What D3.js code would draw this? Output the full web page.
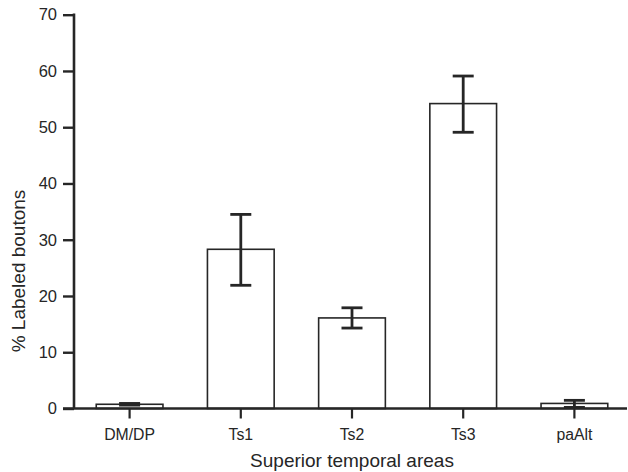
<!DOCTYPE html>
<html>
<head>
<meta charset="utf-8">
<script src="https://cdn.jsdelivr.net/npm/d3@7"></script>
<style>
  body { margin: 0; background: #fff; }
  svg { display: block; font-family: "Liberation Sans", Arial, sans-serif; }
</style>
</head>
<body>
<svg id="chart" width="628" height="472"></svg>
<script>
// values
var categories = ["DM/DP", "Ts1", "Ts2", "Ts3", "paAlt"];
var means = [0.75, 28.3, 16.1, 54.2, 0.9];
var errLow = [0.6, 21.9, 14.3, 49.1, 0.2];
var errHigh = [0.9, 34.5, 17.9, 59.1, 1.45];
var yTicks = [0, 10, 20, 30, 40, 50, 60, 70];

var ink = "#262626";
var svg = d3.select("#chart");

var x = d3.scaleBand()
  .domain(categories)
  .range([74, 630])
  .paddingInner(0.4)
  .paddingOuter(0.2);

var y = d3.scaleLinear()
  .domain([0, 70])
  .range([408.5, 14.7]);

var rows = categories.map(function (c, i) {
  return { cat: c, mean: means[i], lo: errLow[i], hi: errHigh[i] };
});

// bars
svg.append("g").selectAll("rect")
  .data(rows)
  .enter()
  .append("rect")
  .attr("x", function (d) { return x(d.cat); })
  .attr("y", function (d) { return y(d.mean); })
  .attr("width", x.bandwidth())
  .attr("height", function (d) { return y(0) - y(d.mean); })
  .style("fill", "#fff")
  .style("stroke", ink)
  .style("stroke-width", 1.6);

// error bars
var capHalf = 10.5;
var err = svg.append("g")
  .style("stroke", ink)
  .style("stroke-width", 2.8);

rows.forEach(function (d) {
  var cx = x(d.cat) + x.bandwidth() / 2;
  err.append("line")
    .attr("x1", cx).attr("x2", cx)
    .attr("y1", y(d.lo)).attr("y2", y(d.hi));
  err.append("line")
    .attr("x1", cx - capHalf).attr("x2", cx + capHalf)
    .attr("y1", y(d.hi)).attr("y2", y(d.hi));
  err.append("line")
    .attr("x1", cx - capHalf).attr("x2", cx + capHalf)
    .attr("y1", y(d.lo)).attr("y2", y(d.lo));
});

// y axis
var yAxis = svg.append("g")
  .attr("transform", "translate(74,0)")
  .call(d3.axisLeft(y).tickValues(yTicks).tickSize(11).tickSizeOuter(0).tickPadding(6));
yAxis.select(".domain").remove();
yAxis.selectAll(".tick line").style("stroke", ink).style("stroke-width", 2.4);
yAxis.selectAll(".tick text")
  .style("font-size", "16.5px")
  .style("fill", ink)
  .style("font-family", "'Liberation Sans', Arial, sans-serif");

svg.append("line")
  .attr("x1", 74).attr("x2", 74)
  .attr("y1", y(70) - 1.2).attr("y2", y(0))
  .style("stroke", ink).style("stroke-width", 2.6);

// x axis
var xAxis = svg.append("g")
  .attr("transform", "translate(0," + y(0) + ")")
  .call(d3.axisBottom(x).tickSize(10).tickSizeOuter(0).tickPadding(10));
xAxis.select(".domain").remove();
xAxis.selectAll(".tick line").style("stroke", ink).style("stroke-width", 2.2);
xAxis.selectAll(".tick text")
  .style("font-size", "15.8px")
  .style("fill", ink)
  .style("font-family", "'Liberation Sans', Arial, sans-serif");

svg.append("line")
  .attr("x1", 63).attr("x2", 627)
  .attr("y1", y(0)).attr("y2", y(0))
  .style("stroke", ink).style("stroke-width", 2.6);

// axis titles
svg.append("text")
  .attr("x", 352)
  .attr("y", 466.5)
  .attr("text-anchor", "middle")
  .style("font-size", "19px")
  .style("fill", ink)
  .text("Superior temporal areas");

svg.append("text")
  .attr("transform", "translate(25,271) rotate(-90)")
  .attr("text-anchor", "middle")
  .style("font-size", "19px")
  .style("fill", ink)
  .text("% Labeled boutons");
</script>
</body>
</html>
